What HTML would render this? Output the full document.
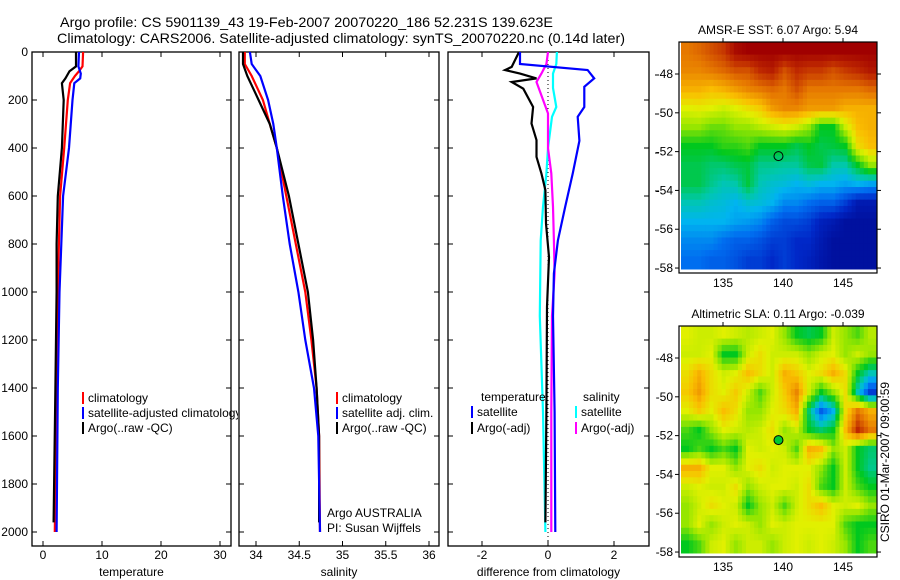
<!DOCTYPE html>
<html><head><meta charset="utf-8"><style>
html,body{margin:0;padding:0;background:#fff;}
svg{display:block;font-family:"Liberation Sans",sans-serif;}
text{fill:#000;}
</style></head><body>
<svg id="fig" width="900" height="580" viewBox="0 0 900 580" xmlns="http://www.w3.org/2000/svg">
<defs><clipPath id="clipP1"><rect x="32" y="52" width="206" height="494"/></clipPath></defs>
<text x="60" y="27" font-size="14" textLength="493" lengthAdjust="spacingAndGlyphs">Argo profile: CS 5901139_43 19-Feb-2007 20070220_186 52.231S 139.623E</text>
<text x="57" y="43" font-size="14" textLength="568" lengthAdjust="spacingAndGlyphs">Climatology: CARS2006. Satellite-adjusted climatology: synTS_20070220.nc (0.14d later)</text>
<g id="layer"></g>
</svg>
<script>
// ---------- data ----------
const depthTicks = [0,200,400,600,800,1000,1200,1400,1600,1800,2000];
const tempTicks = [0,10,20,30];
const salTicks = [34,34.5,35,35.5,36];
const salTickLabels = ["34","34.5","35","35.5","36"];
const diffTicks = [-2,0,2];

const tempClimDepth = [0,60,80,100,130,200,400,600,800,1000,1400,2000];
const tempClimVal   = [6.8,6.7,6.1,5.4,4.6,4.2,3.6,2.9,2.7,2.5,2.3,2.0];
const tempSatDepth  = [0,60,90,110,130,200,400,600,800,1000,1400,2000];
const tempSatVal    = [6.1,6.0,6.4,6.3,5.3,5.0,4.4,3.4,3.1,2.8,2.5,2.3];
const tempArgoDepth = [0,60,80,110,130,200,400,600,800,1000,1400,1960];
const tempArgoVal   = [5.6,5.6,4.5,3.8,3.2,3.5,3.2,2.5,2.3,2.3,2.1,1.8];

const salClimDepth = [0,50,100,200,300,400,600,800,1000,1200,1400,1600,2000];
const salClimVal   = [33.87,33.87,33.95,34.08,34.16,34.24,34.35,34.46,34.57,34.64,34.7,34.73,34.74];
const salSatDepth  = [0,50,100,200,300,400,600,800,1000,1200,1400,1600,2000];
const salSatVal    = [33.93,33.95,34.05,34.14,34.2,34.24,34.31,34.39,34.49,34.57,34.67,34.72,34.74];
const salArgoDepth = [0,50,100,200,300,400,600,800,1000,1200,1400,1600,1960];
const salArgoVal   = [33.85,33.85,33.9,34.03,34.16,34.24,34.38,34.49,34.6,34.66,34.7,34.73,34.73];

const dTempSatDepth = [0,50,75,110,145,229,270,370,505,645,785,923,1100,1500,2000];
const dTempSatVal   = [-0.85,-0.85,1.2,1.4,1.1,1.1,0.9,0.95,0.75,0.52,0.3,0.18,0.15,0.2,0.22];
const dTempArgoDepth = [0,62,75,90,110,125,153,229,298,367,437,506,576,715,854,1062,1500,1960];
const dTempArgoVal   = [-0.88,-1.1,-1.3,-0.85,-0.35,-1.1,-0.75,-0.45,-0.5,-0.35,-0.35,-0.2,-0.08,-0.06,0.03,-0.03,-0.05,-0.08];
const dSalSatDepth = [0,50,90,150,229,270,400,506,645,785,1100,1500,2000];
const dSalSatVal   = [0.27,0.25,0.15,0.15,0.25,0.12,0.0,-0.05,-0.15,-0.22,-0.25,-0.15,-0.08];
const dSalArgoDepth = [0,50,90,125,181,256,400,506,645,785,923,1100,1500,2000];
const dSalArgoVal   = [0.0,-0.05,-0.2,-0.35,-0.2,0.0,0.0,0.1,0.15,0.18,0.2,0.12,0.1,0.1];

const sstGrid = [
[0.8,0.82,0.85,0.88,0.95,0.97,0.97,0.97,0.97,0.97,0.97,0.97,0.97,0.97,0.97,0.97],
[0.78,0.78,0.8,0.82,0.85,0.85,0.9,0.92,0.85,0.9,0.88,0.88,0.85,0.88,0.9,0.93],
[0.72,0.72,0.7,0.72,0.75,0.78,0.8,0.82,0.8,0.85,0.8,0.8,0.8,0.8,0.8,0.82],
[0.62,0.63,0.62,0.6,0.62,0.65,0.68,0.75,0.78,0.78,0.75,0.75,0.75,0.72,0.72,0.72],
[0.55,0.55,0.52,0.52,0.55,0.55,0.58,0.6,0.62,0.6,0.55,0.45,0.45,0.6,0.7,0.72],
[0.45,0.45,0.45,0.48,0.48,0.5,0.45,0.45,0.45,0.42,0.45,0.42,0.43,0.45,0.65,0.7],
[0.42,0.42,0.4,0.4,0.42,0.43,0.38,0.38,0.37,0.37,0.42,0.43,0.36,0.36,0.45,0.55],
[0.42,0.42,0.38,0.35,0.36,0.43,0.35,0.33,0.32,0.3,0.32,0.3,0.3,0.28,0.3,0.28],
[0.35,0.35,0.33,0.32,0.3,0.33,0.32,0.3,0.25,0.25,0.22,0.2,0.2,0.15,0.08,0.08],
[0.3,0.3,0.3,0.3,0.28,0.27,0.25,0.2,0.17,0.17,0.15,0.1,0.08,0.05,0.05,0.05],
[0.25,0.25,0.25,0.22,0.2,0.2,0.18,0.15,0.15,0.12,0.12,0.08,0.05,0.05,0.05,0.05],
[0.22,0.22,0.2,0.2,0.18,0.15,0.15,0.12,0.15,0.12,0.1,0.07,0.05,0.05,0.05,0.05]];
const slaGrid = [
[0.62,0.6,0.6,0.62,0.6,0.58,0.6,0.62,0.55,0.45,0.42,0.45,0.6,0.55,0.5,0.58],
[0.6,0.6,0.62,0.45,0.45,0.6,0.65,0.6,0.6,0.6,0.55,0.6,0.62,0.55,0.6,0.55],
[0.65,0.72,0.65,0.6,0.62,0.7,0.65,0.6,0.72,0.68,0.62,0.65,0.72,0.65,0.45,0.35],
[0.68,0.75,0.65,0.62,0.68,0.6,0.5,0.6,0.68,0.78,0.6,0.45,0.55,0.65,0.35,0.15],
[0.62,0.68,0.62,0.7,0.65,0.55,0.55,0.62,0.65,0.72,0.4,0.2,0.3,0.65,0.8,0.72],
[0.5,0.45,0.55,0.62,0.6,0.58,0.6,0.65,0.55,0.6,0.45,0.4,0.45,0.7,0.9,0.8],
[0.45,0.5,0.45,0.5,0.45,0.62,0.6,0.62,0.6,0.5,0.72,0.7,0.55,0.6,0.45,0.4],
[0.72,0.72,0.62,0.62,0.55,0.62,0.65,0.6,0.62,0.62,0.62,0.55,0.45,0.6,0.45,0.38],
[0.6,0.62,0.6,0.6,0.65,0.55,0.6,0.62,0.62,0.6,0.65,0.5,0.45,0.6,0.5,0.45],
[0.55,0.6,0.65,0.62,0.6,0.45,0.55,0.6,0.5,0.6,0.65,0.7,0.62,0.6,0.62,0.55],
[0.55,0.62,0.55,0.6,0.62,0.6,0.55,0.62,0.6,0.62,0.62,0.62,0.62,0.5,0.45,0.45],
[0.45,0.5,0.6,0.62,0.55,0.6,0.6,0.55,0.6,0.62,0.6,0.62,0.6,0.55,0.45,0.5]];
const lonTicks = [135,140,145];
const latTicks = [-48,-50,-52,-54,-56,-58];
const floatLon = [139.623];
const floatLat = [-52.231];

// ---------- helpers ----------
const NS = "http://www.w3.org/2000/svg";
const layer = document.getElementById("layer");
function el(tag, attrs, parent) {
  const e = document.createElementNS(NS, tag);
  for (const k in attrs) e.setAttribute(k, attrs[k]);
  (parent || layer).appendChild(e);
  return e;
}
function txt(x, y, s, size, anchor, parent) {
  const t = el("text", {x: x, y: y, "font-size": size, "text-anchor": anchor || "start"}, parent);
  t.textContent = s;
  return t;
}
const Y0 = 52, Y1 = 546;
const yDepth = d => Y0 + d * 0.24;
const panels = [
  {name: "temperature", x0: 32, x1: 231, xs: v => 43 + 5.9 * v},
  {name: "salinity", x0: 239, x1: 439, xs: v => 256 + 86.5 * (v - 34)},
  {name: "difference", x0: 448, x1: 649, xs: v => 548 + 33 * v}
];

function drawBox(p, ticksX, labelsX, xlabel) {
  const r = el("rect", {x: p.x0, y: Y0, width: p.x1 - p.x0, height: Y1 - Y0, fill: "#fff", stroke: "#000", "stroke-width": 1.3});
  
  
  ticksX.forEach((v, i) => {
    const x = p.xs(v);
    const t1 = el("line", {x1: x, x2: x, y1: Y1, y2: Y1 - 5, stroke: "#000"});
    
    
    const t2 = el("line", {x1: x, x2: x, y1: Y0, y2: Y0 + 5, stroke: "#000"});
    
    
    const lb = txt(x, 559, labelsX[i], 12, "middle");
    
    
  });
  depthTicks.forEach(d => {
    const y = yDepth(d);
    const a = el("line", {x1: p.x0, x2: p.x0 + 5, y1: y, y2: y, stroke: "#000"});
    
    
    const b = el("line", {x1: p.x1, x2: p.x1 - 5, y1: y, y2: y, stroke: "#000"});
    
    
  });
  const xl = txt((p.x0 + p.x1) / 2, 576, xlabel, 12, "middle");
  
  
}
function series(p, depths, vals, color, name) {
  const pts = depths.map((d, i) => p.xs(vals[i]).toFixed(1) + "," + yDepth(d).toFixed(1)).join(" ");
  const pl = el("polyline", {points: pts, fill: "none", stroke: color, "stroke-width": 2.2, "stroke-linejoin": "miter"});
  
  
}
function legendItem(x, y, color, label, name, parent) {
  const b = el("line", {x1: x, x2: x, y1: y - 10, y2: y + 2, stroke: color, "stroke-width": 2}, parent);
  
  
  const t = txt(x + 5, y, label, 12, "start", parent);
  
  
}

// ---------- panels ----------
drawBox(panels[0], tempTicks, tempTicks.map(String), "temperature");
drawBox(panels[1], salTicks, salTickLabels, "salinity");
drawBox(panels[2], diffTicks, diffTicks.map(String), "difference from climatology");

depthTicks.forEach(d => {
  const l = txt(28, yDepth(d) + 4, String(d), 12, "end");
  
  
});

series(panels[0], tempClimDepth, tempClimVal, "#ff0000", "temp-climatology-line");
series(panels[0], tempArgoDepth, tempArgoVal, "#000000", "temp-argo-line");
series(panels[0], tempSatDepth, tempSatVal, "#0000ff", "temp-satellite-line");

series(panels[1], salClimDepth, salClimVal, "#ff0000", "sal-climatology-line");
series(panels[1], salArgoDepth, salArgoVal, "#000000", "sal-argo-line");
series(panels[1], salSatDepth, salSatVal, "#0000ff", "sal-satellite-line");

const zl = el("line", {x1: panels[2].xs(0), x2: panels[2].xs(0), y1: Y0, y2: Y1, stroke: "#000", "stroke-width": 1, "stroke-dasharray": "1,3"});


series(panels[2], dSalSatDepth, dSalSatVal, "#00ffff", "diff-sal-satellite-line");
series(panels[2], dSalArgoDepth, dSalArgoVal, "#ff00ff", "diff-sal-argo-line");
series(panels[2], dTempArgoDepth, dTempArgoVal, "#000000", "diff-temp-argo-line");
series(panels[2], dTempSatDepth, dTempSatVal, "#0000ff", "diff-temp-satellite-line");

// legends
const lg1 = el("g", {"clip-path": "url(#clipP1)"});


legendItem(83, 402, "#ff0000", "climatology", "legend-climatology", lg1);
legendItem(83, 417, "#0000ff", "satellite-adjusted climatology", "legend-satellite-adjusted", lg1);
legendItem(83, 432, "#000000", "Argo(..raw -QC)", "legend-argo", lg1);
legendItem(337, 402, "#ff0000", "climatology", "sal-legend-climatology");
legendItem(337, 417, "#0000ff", "satellite adj. clim.", "sal-legend-satellite");
legendItem(337, 432, "#000000", "Argo(..raw -QC)", "sal-legend-argo");
const lt = txt(481, 401, "temperature", 12);  
const ls = txt(583, 401, "salinity", 12);  
legendItem(472, 416, "#0000ff", "satellite", "diff-legend-temp-satellite");
legendItem(472, 432, "#000000", "Argo(-adj)", "diff-legend-temp-argo");
legendItem(576, 416, "#00ffff", "satellite", "diff-legend-sal-satellite");
legendItem(576, 432, "#ff00ff", "Argo(-adj)", "diff-legend-sal-argo");
const a1 = txt(327, 517, "Argo AUSTRALIA", 12);  
const a2 = txt(327, 532, "PI: Susan Wijffels", 12);  

// stray ticks right of panel 3
[75,114,153,191,230,269].forEach(y => {
  const s = el("line", {x1: 655, x2: 659, y1: y, y2: y, stroke: "#000"});
  
  
});

// ---------- maps ----------
const cmapStops = [[0,[0,0,130]],[0.12,[0,40,200]],[0.22,[0,110,240]],[0.3,[0,180,240]],[0.36,[0,200,170]],[0.45,[0,200,30]],[0.55,[150,230,0]],[0.62,[225,240,0]],[0.7,[250,190,0]],[0.8,[230,120,0]],[0.9,[190,40,0]],[0.97,[160,0,0]],[1,[150,0,0]]];
function cmap(v) {
  for (let i = 1; i < cmapStops.length; i++) {
    if (v <= cmapStops[i][0]) {
      const a = cmapStops[i-1], b = cmapStops[i], f = (v - a[0]) / (b[0] - a[0]);
      return "rgb(" + a[1].map((c, k) => Math.round(c + f * (b[1][k] - c))).join(",") + ")";
    }
  }
  return "rgb(150,0,0)";
}
// bilinear sample of grid at fractional row/col (cell centres)
function sample(grid, fr, fc) {
  const nr = grid.length, nc = grid[0].length;
  fr = Math.max(0, Math.min(nr - 1, fr)); fc = Math.max(0, Math.min(nc - 1, fc));
  const r0 = Math.floor(fr), c0 = Math.floor(fc);
  const r1 = Math.min(nr - 1, r0 + 1), c1 = Math.min(nc - 1, c0 + 1);
  const a = fr - r0, b = fc - c0;
  return (1-a)*(1-b)*grid[r0][c0] + (1-a)*b*grid[r0][c1] + a*(1-b)*grid[r1][c0] + a*b*grid[r1][c1];
}
const LON0 = 131.5, LON1 = 147.75, LAT0 = -46.35, LAT1 = -58.05;
const UP = 3;
function drawMap(top, grid, title, name, filledMarker) {
  const X0 = 681, X1 = 876, H = 227;
  const xs = lon => X0 + (lon - LON0) / (LON1 - LON0) * (X1 - X0);
  const ys = lat => top + (lat - LAT0) / (LAT1 - LAT0) * H;
  const g = el("g", {});
  
  
  const nr = grid.length * UP, nc = grid[0].length * UP;
  const dLon = (LON1 - LON0) / nc, dLat = (LAT1 - LAT0) / nr;
  for (let r = 0; r < nr; r++) for (let c = 0; c < nc; c++) {
    const v = sample(grid, (r + 0.5) / UP - 0.5, (c + 0.5) / UP - 0.5);
    const x = xs(LON0 + c * dLon), y = ys(LAT0 + r * dLat);
    const cell = el("rect", {x: x.toFixed(2), y: y.toFixed(2), width: (xs(LON0 + (c+1) * dLon) - x + 0.5).toFixed(2), height: (ys(LAT0 + (r+1) * dLat) - y + 0.5).toFixed(2), fill: cmap(v)}, g);
    
    
  }
  const box = el("rect", {x: X0 - 2, y: top, width: X1 - X0 + 3, height: H + 4, fill: "none", stroke: "#000", "stroke-width": 1.2}, g);
  
  
  lonTicks.forEach(lon => {
    const x = xs(lon);
    const t = el("line", {x1: x, x2: x, y1: top, y2: top - 4, stroke: "#000"}, g);
    
    
    const l = txt(x, top + H + 18, String(lon), 12, "middle", g);
    
    
  });
  latTicks.forEach(lat => {
    const y = ys(lat);
    const t = el("line", {x1: X0 - 2, x2: X0 - 6, y1: y, y2: y, stroke: "#000"}, g);
    
    
    const t2 = el("line", {x1: X1 + 1, x2: X1 + 5, y1: y, y2: y, stroke: "#000"}, g);
    
    
    const l = txt(X0 - 8, y + 4, String(lat), 12, "end", g);
    
    
  });
  const tt = txt(778, top - 8, title, 12, "middle", g);
  
  
  floatLon.forEach((lon, i) => {
    const m = el("circle", {cx: xs(lon), cy: ys(floatLat[i]), r: 4.5, fill: filledMarker ? "#00c832" : "none", stroke: "#000", "stroke-width": 1}, g);
    
    
  });
}
drawMap(42, sstGrid, "AMSR-E SST: 6.07 Argo: 5.94", "sst-map", false);
drawMap(326, slaGrid, "Altimetric SLA: 0.11 Argo: -0.039", "sla-map", true);
const cs = txt(0, 0, "CSIRO 01-Mar-2007 09:00:59", 12, "middle");
cs.setAttribute("transform", "translate(889,462) rotate(-90)");


</script>
</body></html>
